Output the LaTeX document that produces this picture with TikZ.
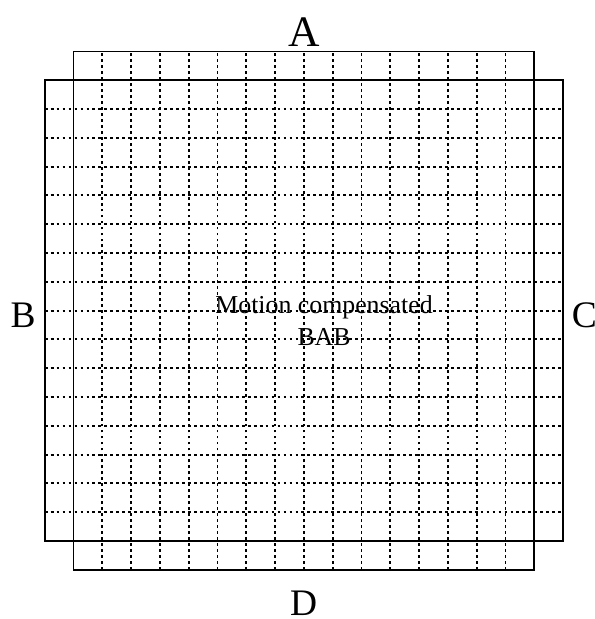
\documentclass[tikz,border=0pt]{standalone}
\usepackage{fontspec}
\setmainfont{Liberation Serif}
\usepackage{tikz}
\usetikzlibrary{positioning}

\begin{document}
\begin{tikzpicture}[x=1cm,y=1cm,
    blockline/.style={line width=1.6pt},
    gridline/.style={line width=1.8pt,dash pattern=on 2.8pt off 3.1pt},
    sidelabel/.style={font=\fontsize{37}{40}\selectfont,inner sep=0pt,anchor=base},
    midlabel/.style={font=\fontsize{25.5}{31.5}\selectfont,align=center,inner sep=0pt,anchor=base}]
    \useasboundingbox (-1.552,-2.708) rectangle (19.073,18.785);
    % dotted block grid
    \foreach \gx in {2,...,16}
        \draw[gridline] (\gx,-1) -- (\gx,17);
    \foreach \gy in {1,...,15}
        \draw[gridline] (0,\gy) -- (18,\gy);
    % the two shifted blocks
    \draw[blockline] (1,-1) rectangle (17,17);
    \draw[blockline] (0,0) rectangle (18,16);
    % border labels
    \node[sidelabel,font=\fontsize{43}{46}\selectfont] (A) at (9.01,17.16) {A};
    \node[sidelabel] (B) at (-0.75,7.41) {B};
    \node[sidelabel,anchor=base west] (C) at (18.30,7.41) {C};
    \node[sidelabel] (D) at (8.99,-2.59) {D};
    \node[midlabel] (bab) at (9.70,6.79) {Motion compensated\\BAB};
\end{tikzpicture}
\end{document}
